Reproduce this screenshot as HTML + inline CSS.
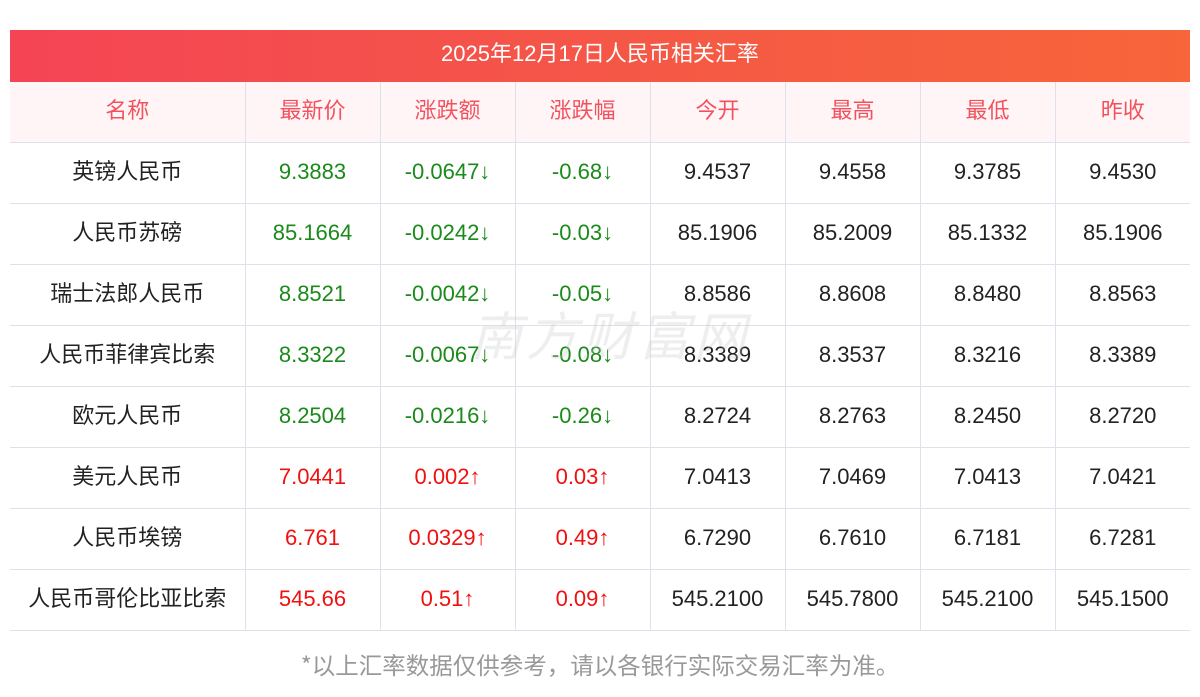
<!DOCTYPE html>
<html><head><meta charset="utf-8"><style>
body{margin:0;width:1200px;height:697px;background:#fff;font-family:"Liberation Sans","Noto Sans CJK SC",sans-serif;position:relative;overflow:hidden}
.title{position:absolute;left:10px;top:30px;width:1180px;height:52px;background:linear-gradient(90deg,#f44455,#f55a44 60%,#f8653a);color:#fff;font-size:22px;line-height:48px;text-align:center}
table{position:absolute;left:10px;top:82px;width:1180px;border-collapse:collapse;table-layout:fixed}
td,th{height:60px;line-height:24px;border-bottom:1px solid #dfe1ea;border-left:1px solid #dfe1ea;text-align:center;font-size:22px;font-weight:normal;padding:0 0 0 0;color:#222}
td{padding-bottom:2px;height:58px}
td:first-child,th:first-child{border-left:none}
th{background:#fff5f6;color:#f2525e;font-family:"Noto Sans CJK SC",sans-serif;padding-bottom:6px;height:54px}
td:first-child{font-family:"Noto Sans CJK SC",sans-serif;padding-bottom:6px;height:54px}
.g{color:#1a8a1a}.r{color:#f01010}
.foot{position:absolute;top:647px;left:0;width:1200px;text-align:center;color:#999;font-size:23.5px;font-family:"Noto Sans CJK SC",sans-serif}
.wm{position:absolute;left:470px;top:295px;font-size:52px;color:rgba(200,200,200,.3);font-style:italic;letter-spacing:4px;font-family:"Noto Sans CJK SC",sans-serif}
</style></head><body>
<div class="title">2025年12月17日人民币相关汇率</div>
<table>
<colgroup><col style="width:235px"><col style="width:135px"><col style="width:135px"><col style="width:135px"><col style="width:135px"><col style="width:135px"><col style="width:135px"><col style="width:135px"></colgroup>
<tr><th>名称</th><th>最新价</th><th>涨跌额</th><th>涨跌幅</th><th>今开</th><th>最高</th><th>最低</th><th>昨收</th></tr>
<tr><td>英镑人民币</td><td class="g">9.3883</td><td class="g">-0.0647↓</td><td class="g">-0.68↓</td><td>9.4537</td><td>9.4558</td><td>9.3785</td><td>9.4530</td></tr>
<tr><td>人民币苏磅</td><td class="g">85.1664</td><td class="g">-0.0242↓</td><td class="g">-0.03↓</td><td>85.1906</td><td>85.2009</td><td>85.1332</td><td>85.1906</td></tr>
<tr><td>瑞士法郎人民币</td><td class="g">8.8521</td><td class="g">-0.0042↓</td><td class="g">-0.05↓</td><td>8.8586</td><td>8.8608</td><td>8.8480</td><td>8.8563</td></tr>
<tr><td>人民币菲律宾比索</td><td class="g">8.3322</td><td class="g">-0.0067↓</td><td class="g">-0.08↓</td><td>8.3389</td><td>8.3537</td><td>8.3216</td><td>8.3389</td></tr>
<tr><td>欧元人民币</td><td class="g">8.2504</td><td class="g">-0.0216↓</td><td class="g">-0.26↓</td><td>8.2724</td><td>8.2763</td><td>8.2450</td><td>8.2720</td></tr>
<tr><td>美元人民币</td><td class="r">7.0441</td><td class="r">0.002↑</td><td class="r">0.03↑</td><td>7.0413</td><td>7.0469</td><td>7.0413</td><td>7.0421</td></tr>
<tr><td>人民币埃镑</td><td class="r">6.761</td><td class="r">0.0329↑</td><td class="r">0.49↑</td><td>6.7290</td><td>6.7610</td><td>6.7181</td><td>6.7281</td></tr>
<tr><td>人民币哥伦比亚比索</td><td class="r">545.66</td><td class="r">0.51↑</td><td class="r">0.09↑</td><td>545.2100</td><td>545.7800</td><td>545.2100</td><td>545.1500</td></tr>
</table>
<div class="wm">南方财富网</div>
<div class="foot">*以上汇率数据仅供参考，请以各银行实际交易汇率为准。</div>
</body></html>
